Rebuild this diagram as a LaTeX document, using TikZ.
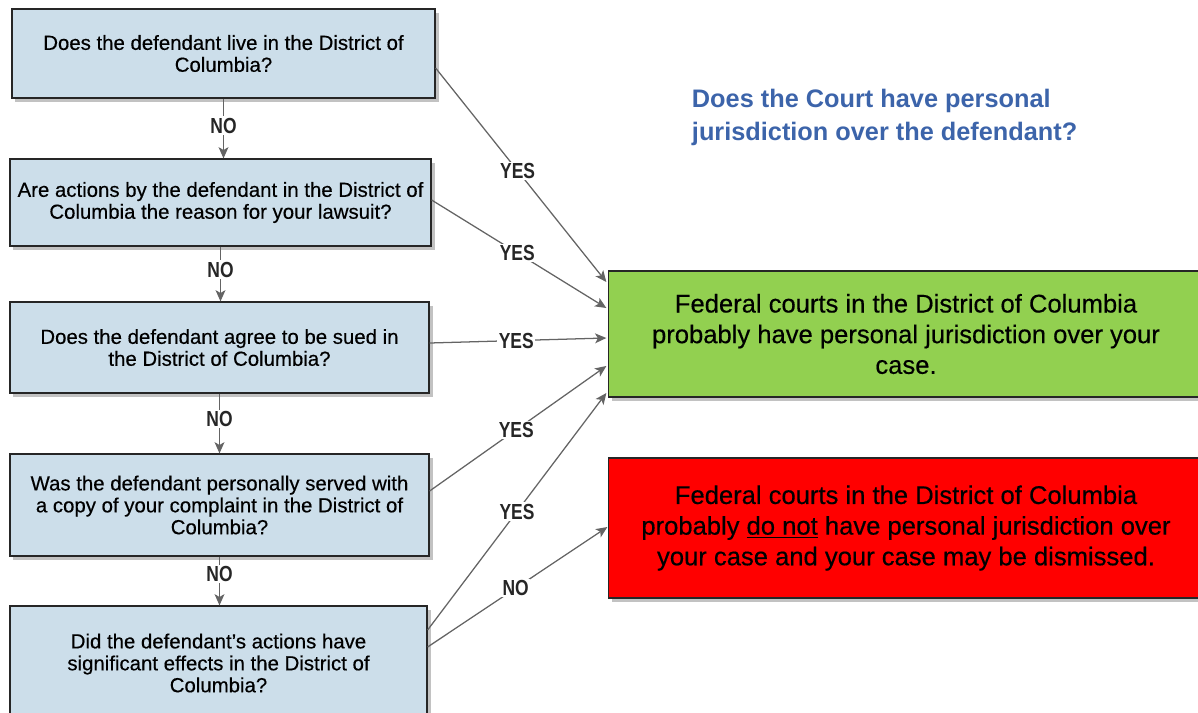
\documentclass[tikz,border=0pt]{standalone}
\usepackage{fontspec}
\setmainfont{Liberation Sans}
\newfontfamily\boxfont[FakeBold=0.4]{Liberation Sans}
\newfontfamily\labelfont[FakeStretch=0.8]{Liberation Sans}
\definecolor{qblue}{RGB}{204, 222, 234}
\definecolor{yesgreen}{RGB}{146, 208, 80}
\definecolor{nored}{RGB}{255, 0, 0}
\definecolor{titleblue}{RGB}{60, 100, 170}
\definecolor{linegray}{RGB}{100, 100, 100}
\usetikzlibrary{arrows.meta, positioning, calc, shadows}

\tikzset{
  question/.style={draw=black!85, fill=qblue, line width=0.8pt, align=center, inner sep=0pt,
    font=\boxfont\fontsize{14.5}{15.6}\selectfont,
    drop shadow={shadow xshift=2.5pt, shadow yshift=-2.5pt, fill=black!40, opacity=0.6}},
  verdict/.style={draw=black!85, line width=0.8pt, align=center, inner sep=0pt,
    minimum width=14.85cm, font=\boxfont\fontsize{18.2}{21.8}\selectfont,
    drop shadow={shadow xshift=2.5pt, shadow yshift=-2.5pt, fill=black!40, opacity=0.6}},
  flow/.style={draw=linegray, line width=0.9pt, -{Stealth[length=8pt, width=7pt, inset=2pt]}},
  answer/.style={fill=white, inner sep=1pt, text=black!85, font=\labelfont\bfseries\fontsize{15.5}{16}\selectfont}
}

\begin{document}
\begin{tikzpicture}[x=0.025cm, y=-0.025cm]
  \useasboundingbox (0,0) rectangle (1198,712);

  % The questions
  \node[question, minimum width=10.575cm, minimum height=2.225cm] (q1) at (223.5, 53.5) {
    Does the defendant live in the District of\\Columbia?
  };
  \node[question, minimum width=10.525cm, minimum height=2.175cm] (q2) at (220.5, 202.5) {
    Are actions by the defendant in the District of\\Columbia the reason for your lawsuit?
  };
  \node[question, minimum width=10.475cm, minimum height=2.275cm] (q3) at (219.5, 347.5) {
    Does the defendant agree to be sued in\\the District of Columbia?
  };
  \node[question, minimum width=10.475cm, minimum height=2.55cm] (q4) at (219.5, 505) {
    Was the defendant personally served with\\a copy of your complaint in the District of\\Columbia?
  };
  \node[question, minimum width=10.425cm, minimum height=2.85cm] (q5) at (218.5, 663) {
    Did the defendant’s actions have\\significant effects in the District of\\Columbia?
  };

  % Heading
  \node[anchor=west, align=left, text=titleblue, font=\bfseries\fontsize{18}{23.4}\selectfont] (heading) at (687, 117) {
    Does the Court have personal\\jurisdiction over the defendant?
  };

  % Outcomes
  \node[verdict, fill=yesgreen, minimum height=3.15cm] (verdictyes) at (906, 334) {
    Federal courts in the District of Columbia\\probably have personal jurisdiction over your\\case.
  };
  \node[verdict, fill=nored, minimum height=3.5cm] (verdictno) at (906, 528) {
    Federal courts in the District of Columbia\\probably \underline{do not} have personal jurisdiction over\\your case and your case may be dismissed.
  };

  % NO chain
  \draw[flow] (q1.south) -- (q1.south |- q2.north) node[answer, pos=0.45] (no1) {NO};
  \draw[flow] (q2.south) -- (q2.south |- q3.north) node[answer, pos=0.42] (no2) {NO};
  \draw[flow] (q3.south) -- (q3.south |- q4.north) node[answer, pos=0.42] (no3) {NO};
  \draw[flow] (q4.south) -- (q4.south |- q5.north) node[answer, pos=0.35] (no4) {NO};

  % YES branches
  \draw[flow] ($(q1.east)+(0,14.5)$) -- ($(verdictyes.west)+(-2,-52)$) node[answer, pos=0.48] (yes1) {YES};
  \draw[flow] ($(q2.east)+(0,-2.5)$) -- ($(verdictyes.west)+(-2,-26)$) node[answer, pos=0.49] (yes2) {YES};
  \draw[flow] ($(q3.east)+(0,-4.5)$) -- ($(verdictyes.west)+(-2,4)$) node[answer, pos=0.49] (yes3) {YES};
  \draw[flow] ($(q4.east)+(0,-14)$) -- ($(verdictyes.west)+(-2,32)$) node[answer, pos=0.49] (yes4) {YES};
  \draw[flow] ($(q5.east)+(0,-33)$) -- ($(verdictyes.west)+(-2,59)$) node[answer, pos=0.5] (yes5) {YES};
  \draw[flow] ($(q5.east)+(0,-16)$) -- ($(verdictno.west)+(-1,-1)$) node[answer, pos=0.49] (no5) {NO};
\end{tikzpicture}
\end{document}
